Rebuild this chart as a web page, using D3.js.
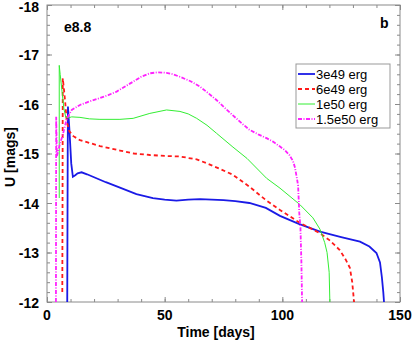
<!DOCTYPE html>
<html>
<head>
<meta charset="utf-8">
<script src="https://cdn.jsdelivr.net/npm/d3@7"></script>
<style>
body { margin: 0; background: #fff; }
svg { display: block; font-family: "Liberation Sans", Arial, sans-serif; }
</style>
</head>
<body>
<div id="chart"></div>
<script>
// light curves [day, U mag]
const blue = [[8.6,-12],[8.8,-15.0],[8.9,-15.95],[9.5,-15.5],[10.3,-14.8],[11,-14.53],[12,-14.56],[13,-14.6],[14.7,-14.62],[17,-14.58],[20,-14.52],[25,-14.42],[31,-14.31],[38,-14.18],[45,-14.1],[50,-14.07],[55,-14.05],[60,-14.07],[65,-14.08],[70,-14.07],[75,-14.06],[80,-14.04],[86,-14.0],[93,-13.9],[99,-13.74],[107,-13.58],[116,-13.42],[125,-13.31],[133,-13.22],[137,-13.12],[140,-12.99],[141.5,-12.8],[142.3,-12.5],[142.9,-12.2],[143.2,-12]];
const red = [[6.5,-12.2],[6.6,-14],[6.7,-16.52],[7.2,-16.3],[7.8,-16.0],[8.4,-15.64],[9.5,-15.45],[11.2,-15.35],[14,-15.27],[18.3,-15.21],[22.5,-15.15],[31,-15.06],[37,-15.0],[43.7,-14.97],[50,-14.95],[56.5,-14.94],[63.6,-14.88],[68,-14.8],[73,-14.7],[79,-14.57],[86,-14.33],[93,-14.06],[99,-13.86],[107.4,-13.6],[116,-13.39],[120,-13.25],[124.4,-13.05],[127,-12.85],[128.7,-12.69],[129.7,-12.4],[130.4,-12.04],[130.5,-12]];
const green = [[5.2,-14.1],[5.2,-16.78],[5.6,-16.6],[6.5,-16.2],[7.2,-15.9],[8,-15.73],[9,-15.72],[10.5,-15.74],[14,-15.73],[18,-15.7],[22.5,-15.69],[31,-15.69],[36.6,-15.71],[43.7,-15.81],[50.8,-15.88],[56.5,-15.85],[60,-15.8],[63.6,-15.71],[68,-15.57],[72,-15.41],[79,-15.13],[85,-14.9],[93.3,-14.5],[99,-14.3],[107.4,-13.97],[113,-13.7],[116,-13.47],[118,-13.2],[119,-13.0],[119.9,-12.6],[120.2,-12]];
const magenta = [[3.8,-12],[3.9,-15.74],[4.2,-14.95],[4.8,-15.05],[5.6,-15.22],[6.5,-15.34],[8.4,-15.7],[10.5,-15.88],[14,-15.98],[18,-16.05],[22.5,-16.12],[26,-16.18],[29.6,-16.25],[33,-16.35],[36.6,-16.45],[40,-16.55],[43.7,-16.62],[47,-16.64],[50.8,-16.63],[53.5,-16.6],[56.5,-16.55],[61,-16.46],[65,-16.35],[68.5,-16.22],[72,-16.08],[76,-15.9],[79,-15.77],[83,-15.6],[86,-15.48],[90,-15.38],[93.3,-15.31],[96,-15.24],[99,-15.14],[101,-15.07],[103,-14.97],[104.5,-14.85],[105.3,-14.73],[106.2,-14.5],[106.7,-14.35],[107.2,-13.8],[107.7,-13.5],[108.1,-12.8],[108.4,-12]];

const seriesNames = ["3e49 erg", "6e49 erg", "1e50 erg", "1.5e50 erg"];
const xTicks = [0, 50, 100, 150];
const yTicks = [-18, -17, -16, -15, -14, -13, -12];

const W = 415, H = 343;
const margin = { left: 47, right: 400, top: 5, bottom: 302 };

const svg = d3.select("#chart").append("svg")
    .attr("width", W)
    .attr("height", H);

const x = d3.scaleLinear().domain([0, 150]).range([margin.left, margin.right]);
const y = d3.scaleLinear().domain([-18, -12]).range([margin.top, margin.bottom]);

svg.append("defs").append("clipPath").attr("id", "clip")
    .append("rect")
    .attr("x", margin.left).attr("y", margin.top)
    .attr("width", margin.right - margin.left).attr("height", margin.bottom - margin.top);

// frame + ticks
const axisColor = "#8a8a8a";
svg.append("rect")
    .attr("x", margin.left).attr("y", margin.top)
    .attr("width", margin.right - margin.left).attr("height", margin.bottom - margin.top)
    .attr("fill", "none").attr("stroke", axisColor).attr("stroke-width", 1);

const minorX = d3.range(0, 151, 10);
const minorY = d3.range(0, 31).map(i => -18 + i * 0.2);

function tickSet(g, axis, values, size) {
    g.call(axis.tickValues(values).tickSize(size).tickFormat(""))
        .call(s => s.select(".domain").remove())
        .call(s => s.selectAll("line").attr("stroke", axisColor));
}
tickSet(svg.append("g").attr("transform", `translate(0,${margin.bottom})`), d3.axisTop(x), minorX, 3);
tickSet(svg.append("g").attr("transform", `translate(0,${margin.bottom})`), d3.axisTop(x), xTicks, 5);
tickSet(svg.append("g").attr("transform", `translate(0,${margin.top})`), d3.axisBottom(x), minorX, 3);
tickSet(svg.append("g").attr("transform", `translate(0,${margin.top})`), d3.axisBottom(x), xTicks, 5);
tickSet(svg.append("g").attr("transform", `translate(${margin.left},0)`), d3.axisRight(y), minorY, 3);
tickSet(svg.append("g").attr("transform", `translate(${margin.left},0)`), d3.axisRight(y), yTicks, 5);
tickSet(svg.append("g").attr("transform", `translate(${margin.right},0)`), d3.axisLeft(y), minorY, 3);
tickSet(svg.append("g").attr("transform", `translate(${margin.right},0)`), d3.axisLeft(y), yTicks, 5);

// tick labels
svg.append("g").selectAll("text")
    .data(xTicks).enter().append("text")
    .attr("x", d => x(d))
    .attr("y", margin.bottom + 18)
    .attr("text-anchor", "middle")
    .style("font-size", "14px").style("font-weight", "bold")
    .text(d => d);

svg.append("g").selectAll("text")
    .data(yTicks).enter().append("text")
    .attr("x", margin.left - 8)
    .attr("y", d => Math.max(y(d) + 5.5, 12))
    .attr("text-anchor", "end")
    .style("font-size", "14px").style("font-weight", "bold")
    .text(d => d);

svg.append("text")
    .attr("x", 216).attr("y", 337)
    .attr("text-anchor", "middle")
    .style("font-size", "14px").style("font-weight", "bold")
    .text("Time [days]");

svg.append("text")
    .attr("transform", "rotate(-90)")
    .attr("x", -157).attr("y", 15)
    .attr("text-anchor", "middle")
    .style("font-size", "14px").style("font-weight", "bold")
    .text("U [mags]");

svg.append("text")
    .attr("x", 64).attr("y", 32)
    .style("font-size", "14px").style("font-weight", "bold")
    .text("e8.8");

svg.append("text")
    .attr("x", 380).attr("y", 28)
    .style("font-size", "14px").style("font-weight", "bold")
    .text("b");

// curves
const styles = [
    { data: blue, color: "#1a1ae6", width: 1.8, dash: null },
    { data: red, color: "#ff1a1a", width: 1.8, dash: "4,3" },
    { data: green, color: "#33ee33", width: 1, dash: null },
    { data: magenta, color: "#ff22ff", width: 1.8, dash: "4,1.5,1,1.5" }
];

const line = d3.line()
    .x(d => x(d[0]))
    .y(d => y(d[1]));

const plot = svg.append("g").attr("clip-path", "url(#clip)");
styles.forEach(s => {
    plot.append("path")
        .datum(s.data)
        .attr("d", line)
        .attr("fill", "none")
        .attr("stroke", s.color)
        .attr("stroke-width", s.width)
        .attr("stroke-dasharray", s.dash);
});

// legend
const lg = svg.append("g");
lg.append("rect")
    .attr("x", 296).attr("y", 64)
    .attr("width", 94).attr("height", 64)
    .attr("fill", "#fff").attr("stroke", "#999").attr("stroke-width", 1);

seriesNames.forEach((name, i) => {
    const yy = 74 + i * 15;
    lg.append("line")
        .attr("x1", 298).attr("x2", 315)
        .attr("y1", yy).attr("y2", yy)
        .attr("stroke", styles[i].color)
        .attr("stroke-width", styles[i].width)
        .attr("stroke-dasharray", styles[i].dash);
    lg.append("text")
        .attr("x", 316).attr("y", yy + 5)
        .style("font-size", "13px")
        .text(name);
});
</script>
</body>
</html>
